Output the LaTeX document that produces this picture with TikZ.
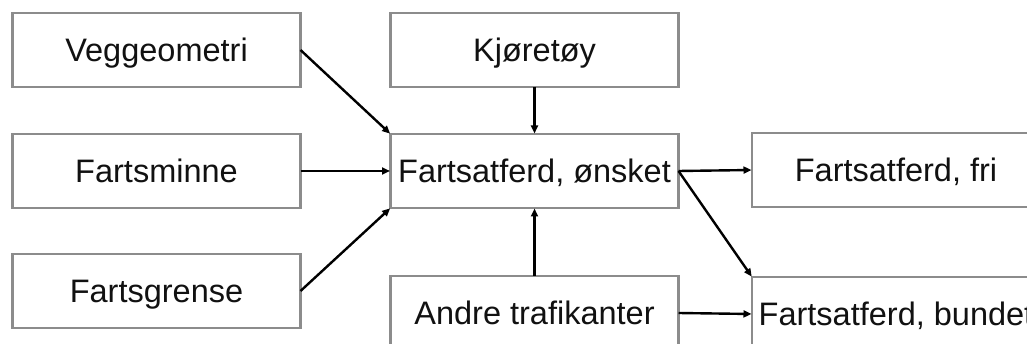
\documentclass[tikz,border=0pt]{standalone}
\usepackage{fontspec}
\setmainfont{Liberation Sans}
\usetikzlibrary{arrows.meta}
\definecolor{boxgray}{HTML}{8C8C8C}
\definecolor{txt}{HTML}{111111}
\tikzset{
  box/.style={draw=boxgray, line width=2.2pt, fill=white, minimum width=288pt, minimum height=74pt, inner sep=0pt, outer sep=0pt, text=txt, text height=23.5pt, text depth=0pt, font=\fontsize{32.5}{39}\selectfont},
  conn/.style={line width=2.4pt, -{Triangle[length=8pt,width=7pt]}, shorten >=0.5pt}
}
\begin{document}
\begin{tikzpicture}[x=1pt,y=-1pt]
\path[use as bounding box] (0,0) rectangle (1027,344);
\clip (0,0) rectangle (1027,344);
\fill[white] (0,0) rectangle (1027,344);
\node[box] (veg) at (156.5,50) {Veggeometri};
\node[box] (min) at (156.5,171) {Fartsminne};
\node[box] (gre) at (156.5,291) {Fartsgrense};
\node[box] (kjo) at (534.5,50) {Kjøretøy};
\node[box] (ons) at (534.5,171) {Fartsatferd, ønsket};
\node[box] (and) at (534.5,313) {Andre trafikanter};
\node[box] (fri) at (896,170) {Fartsatferd, fri};
\node[box] (bun) at (896,314) {Fartsatferd, bundet};
\draw[conn] (veg.east) -- (ons.north west);
\draw[conn] (min.east) -- (ons.west);
\draw[conn] (gre.east) -- (ons.south west);
\draw[conn] (kjo.south) -- (ons.north);
\draw[conn] (and.north) -- (ons.south);
\draw[conn] (ons.east) -- (fri.west);
\draw[conn] (ons.east) -- (bun.north west);
\draw[conn] (and.east) -- (bun.west);
\end{tikzpicture}
\end{document}
